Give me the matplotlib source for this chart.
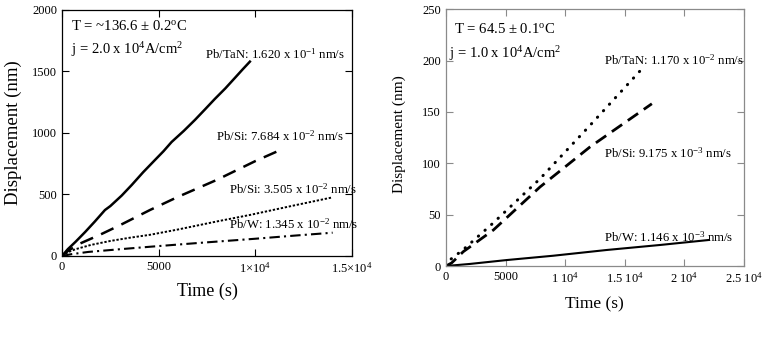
import matplotlib
matplotlib.use("Agg")
import matplotlib.pyplot as plt
from matplotlib.ticker import FixedLocator, FixedFormatter

plt.rcParams['font.family'] = ['Liberation Serif', 'DejaVu Serif']
plt.rcParams['mathtext.fontset'] = 'custom'
plt.rcParams['mathtext.rm'] = 'Liberation Serif'
plt.rcParams['mathtext.it'] = 'Liberation Serif:italic'

# ---- left panel data (136.6 C) ----
taN1_t = [0, 300, 700, 1200, 1700, 2223, 2500, 3086, 3600, 4200, 4810, 5250, 5670, 6300, 6877, 7400, 7911, 8450, 8945, 9350, 9720]
taN1_d = [0, 55, 115, 195, 280, 373, 405, 490, 575, 680, 779, 850, 925, 1015, 1104, 1190, 1275, 1360, 1445, 1515, 1577]
si1_t = [0, 300, 845, 2000, 3000, 4550, 6000, 8000, 10000, 11410]
si1_d = [0, 40, 95, 175, 250, 373, 480, 617, 770, 868]
si2_t = [0, 300, 700, 1500, 2500, 3500, 4550, 6000, 8000, 9720, 12000, 14000]
si2_d = [0, 30, 55, 90, 122, 148, 172, 215, 280, 333, 410, 476]
w1_t = [0, 500, 1360, 3000, 4550, 7000, 10000, 12000, 14000]
w1_d = [0, 15, 33, 55, 75, 105, 140, 165, 189]

# ---- right panel data (64.5 C) ----
taN2_t = [0, 336, 1456, 3975, 7900, 12100, 16300]
taN2_d = [0, 6, 16, 42, 85, 137, 190]
si3_t = [0, 476, 1456, 3975, 7900, 12100, 17290]
si3_d = [0, 3, 14, 35, 77, 116, 158]
w2_t = [0, 2000, 5100, 9000, 13500, 18000, 22040]
w2_d = [0, 2, 5.8, 10, 15.6, 20.5, 25.3]

left_xticks = [0, 5000, 10000, 15000]
left_xlabels = ['0', '5000', r'1$\times$10$^4$', r'1.5$\times$10$^4$']
left_yticks = [0, 500, 1000, 1500, 2000]
right_xticks = [0, 5000, 10000, 15000, 20000, 25000]
right_xlabels = ['0', '5000', r'1 10$^4$', r'1.5 10$^4$', r'2 10$^4$', r'2.5 10$^4$']
right_yticks = [0, 50, 100, 150, 200, 250]

fig = plt.figure(figsize=(7.72, 3.6), dpi=100)
ax1 = fig.add_axes([0.0803, 0.2889, 0.3756, 0.6847])
ax2 = fig.add_axes([0.5777, 0.2611, 0.3856, 0.7131])

# left
ax1.plot(taN1_t, taN1_d, color='black', lw=1.8, ls='-')
ax1.plot(si1_t, si1_d, color='black', lw=1.8, ls=(0, (5.5, 3.5)))
ax1.plot(si2_t, si2_d, color='black', lw=1.4, ls=(0, (1.2, 0.9)))
ax1.plot(w1_t, w1_d, color='black', lw=1.5, ls=(0, (5, 2, 1, 2)))
ax1.set_xlim(0, 15000)
ax1.set_ylim(0, 2000)
ax1.xaxis.set_major_locator(FixedLocator(left_xticks))
ax1.xaxis.set_major_formatter(FixedFormatter(left_xlabels))
ax1.yaxis.set_major_locator(FixedLocator(left_yticks))
ax1.tick_params(direction='in', top=True, right=True, labelsize=9, length=5, width=0.8)
ax1.set_xlabel('Time (s)', fontsize=13, labelpad=5)
ax1.set_ylabel('Displacement (nm)', fontsize=13.5, labelpad=7)
for s in ax1.spines.values():
    s.set_linewidth(0.9)

def px(x, y):
    # figure-pixel coordinates to figure fraction
    return x / 772.0, 1 - y / 360.0

fs_ann = 9.2
fig.text(*px(70.7, 26), r'T = ~136.6 $\pm$ 0.2$^{\rm o}$C', fontsize=10.6, va='center')
fig.text(*px(70.7, 50), r'j = 2.0 x 10$^4$A/cm$^2$', fontsize=10.5, va='center')
fig.text(*px(204.7, 54), r'Pb/TaN: 1.620 x 10$^{-1}$ nm/s', fontsize=fs_ann, va='center')
fig.text(*px(216, 136), r'Pb/Si: 7.684 x 10$^{-2}$ nm/s', fontsize=fs_ann, va='center')
fig.text(*px(229, 189), r'Pb/Si: 3.505 x 10$^{-2}$ nm/s', fontsize=fs_ann, va='center')
fig.text(*px(228.7, 224), r'Pb/W: 1.345 x 10$^{-2}$ nm/s', fontsize=fs_ann, va='center')

# right
ax2.plot(taN2_t, taN2_d, color='black', lw=2.2, ls=(0, (0.1, 2.8)), dash_capstyle='round')
ax2.plot(si3_t, si3_d, color='black', lw=2.0, ls=(0, (4.5, 2.5)))
ax2.plot(w2_t, w2_d, color='black', lw=1.5, ls='-')
ax2.set_xlim(0, 25000)
ax2.set_ylim(0, 250)
ax2.xaxis.set_major_locator(FixedLocator(right_xticks))
ax2.xaxis.set_major_formatter(FixedFormatter(right_xlabels))
ax2.yaxis.set_major_locator(FixedLocator(right_yticks))
ax2.tick_params(direction='in', top=True, right=True, labelsize=9, length=5, width=0.8,
                color='#8a8a8a')
ax2.set_xlabel('Time (s)', fontsize=12.5, labelpad=8)
ax2.set_ylabel('Displacement (nm)', fontsize=11, labelpad=6)
ax2.yaxis.set_label_coords(-0.135, 0.514)
for s in ax2.spines.values():
    s.set_linewidth(0.9)
    s.set_color('#8a8a8a')

fig.text(*px(454.3, 29), r'T = 64.5 $\pm$ 0.1$^{\rm o}$C', fontsize=10.6, va='center')
fig.text(*px(449.3, 54), r'j = 1.0 x 10$^4$A/cm$^2$', fontsize=10.5, va='center')
fig.text(*px(604.3, 60), r'Pb/TaN: 1.170 x 10$^{-2}$ nm/s', fontsize=fs_ann, va='center')
fig.text(*px(604.3, 153), r'Pb/Si: 9.175 x 10$^{-3}$ nm/s', fontsize=fs_ann, va='center')
fig.text(*px(604.3, 237), r'Pb/W: 1.146 x 10$^{-3}$ nm/s', fontsize=fs_ann, va='center')

fig.savefig('out.png', dpi=100)
